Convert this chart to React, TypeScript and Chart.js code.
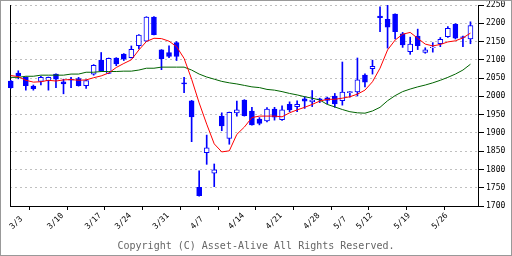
import React, { useEffect, useRef } from "react";
import { Chart, registerables } from "chart.js";

Chart.register(...registerables);

// Date labels and the candle index each one belongs to
const DATE_LABELS = ["3/3", "3/10", "3/17", "3/24", "3/31", "4/7", "4/14", "4/21", "4/28", "5/7", "5/12", "5/19", "5/26"];
const LABEL_INDEX = [0, 5, 10, 14, 19, 24, 29, 34, 39, 43, 46, 51, 56];
// Tick marks: one every 5 candles
const TICK_STEP = 5;
const TICK_COUNT = 13;

// Daily candles
const OPEN = [
  2042, 2064, 2052, 2028, 2041, 2043, 2061, 2040, 2047, 2049,
  2029, 2061, 2099, 2063, 2105, 2116, 2106, 2139, 2151, 2217,
  2127, 2120, 2147, 2037, 1988, 1751, 1846, 1790, 1946, 1885,
  1955, 1990, 1960, 1938, 1933, 1965, 1936, 1978, 1972, 1993,
  1985, 1993, 1996, 2001, 1988, 2010, 2012, 2058, 2076, 2220,
  2211, 2225, 2171, 2122, 2165, 2120, 2133, 2144, 2163, 2197,
  2163, 2157,
];
const HIGH = [
  2044, 2070, 2053, 2031, 2055, 2053, 2062, 2047, 2052, 2052,
  2045, 2087, 2120, 2105, 2106, 2117, 2138, 2169, 2218, 2218,
  2128, 2138, 2150, 2052, 1989, 1796, 1894, 1815, 1955, 1957,
  1987, 1991, 1970, 1942, 1969, 1970, 1974, 1985, 1988, 1999,
  2016, 1995, 1998, 2008, 2094, 2014, 2105, 2062, 2099, 2245,
  2249, 2226, 2175, 2162, 2184, 2133, 2147, 2161, 2191, 2199,
  2165, 2204,
];
const LOW = [
  2022, 2048, 2017, 2017, 2031, 2017, 2024, 2007, 2024, 2028,
  2022, 2058, 2068, 2062, 2084, 2098, 2105, 2130, 2150, 2168,
  2073, 2106, 2098, 2010, 1876, 1727, 1814, 1753, 1906, 1869,
  1946, 1946, 1921, 1922, 1930, 1935, 1934, 1958, 1958, 1967,
  1972, 1983, 1979, 1970, 1976, 1998, 2001, 2026, 2061, 2177,
  2132, 2157, 2134, 2115, 2128, 2118, 2121, 2136, 2161, 2157,
  2136, 2144,
];
const CLOSE = [
  2024, 2056, 2029, 2021, 2052, 2052, 2047, 2034, 2044, 2029,
  2043, 2085, 2069, 2104, 2089, 2102, 2129, 2168, 2217, 2169,
  2103, 2109, 2109, 2034, 1944, 1728, 1859, 1799, 1919, 1956,
  1963, 1947, 1922, 1926, 1965, 1943, 1963, 1963, 1978, 1987,
  1990, 1991, 1989, 1979, 2012, 2013, 2045, 2039, 2082, 2215,
  2189, 2177, 2141, 2143, 2139, 2127, 2135, 2156, 2186, 2159,
  2161, 2194,
];

// Moving averages (red: short, green: long)
const MA_SHORT = [
  2057, 2054, 2044, 2039, 2040, 2044, 2042, 2045, 2046, 2044,
  2045, 2051, 2056, 2064, 2079, 2090, 2100, 2127, 2150, 2159,
  2158, 2151, 2136, 2104, 2047, 1982, 1924, 1870, 1848, 1851,
  1896, 1916, 1942, 1946, 1946, 1946, 1944, 1955, 1963, 1970,
  1978, 1987, 1992, 1992, 1995, 1999, 2006, 2017, 2040, 2077,
  2127, 2154, 2170, 2175, 2159, 2143, 2138, 2142, 2149, 2152,
  2160, 2173,
];
const MA_LONG = [
  2052, 2052, 2055, 2055, 2058, 2058, 2058, 2058, 2061, 2061,
  2066, 2066, 2068, 2068, 2068, 2069, 2069, 2072, 2077, 2077,
  2080, 2080, 2080, 2080, 2072, 2061, 2053, 2047, 2041, 2037,
  2034, 2030, 2026, 2024, 2019, 2017, 2013, 2008, 2004, 1999,
  1995, 1990, 1978, 1971, 1964, 1958, 1955, 1954, 1960, 1970,
  1988, 2002, 2013, 2020, 2026, 2031, 2037, 2044, 2052, 2061,
  2072, 2088,
];

const Y_MIN = 1700;
const Y_MAX = 2250;
const Y_STEP = 50;

export default function App() {
  const ref = useRef<HTMLCanvasElement | null>(null);

  useEffect(() => {
    document.body.style.margin = "0";
    const canvas = ref.current;
    if (!canvas) return;
    const padLen = Math.max(...DATE_LABELS.map((s) => s.length));
    const mono = "'DejaVu Sans Mono', monospace";

    const chart = new Chart(canvas, {
      type: "bar",
      data: {
        datasets: [
          {
            type: "line",
            label: "short",
            data: MA_SHORT.map((v, i) => ({ x: i, y: v })),
            borderColor: "#ff0000",
            borderWidth: 1,
            pointRadius: 0,
            fill: false,
            tension: 0,
            order: 0,
          } as any,
          {
            type: "line",
            label: "long",
            data: MA_LONG.map((v, i) => ({ x: i, y: v })),
            borderColor: "#006400",
            borderWidth: 1,
            pointRadius: 0,
            fill: false,
            tension: 0,
            order: 0,
          } as any,
          {
            type: "bar",
            label: "body",
            data: OPEN.map((o, i) => ({ x: i, y: [o, CLOSE[i]] })),
            backgroundColor: OPEN.map((o, i) => (CLOSE[i] < o ? "#0000ff" : "#ffffff")),
            borderColor: "#0000ff",
            borderWidth: 1,
            borderSkipped: false,
            barThickness: 5,
            grouped: false,
            order: 1,
            clip: false,
          } as any,
          {
            type: "bar",
            label: "wick",
            data: HIGH.map((h, i) => ({ x: i, y: [LOW[i], h] })),
            backgroundColor: "#0000ff",
            borderWidth: 0,
            barThickness: 1,
            grouped: false,
            order: 2,
            clip: false,
          } as any,
        ],
      },
      options: {
        animation: false,
        responsive: false,
        maintainAspectRatio: false,
        devicePixelRatio: 1,
        layout: { padding: { left: 9, top: 4, right: 0, bottom: 0 } },
        plugins: {
          legend: { display: false },
          title: { display: false },
          tooltip: { enabled: false },
        },
        scales: {
          x: {
            type: "linear",
            position: "bottom",
            weight: 0,
            min: -0.1,
            max: 62,
            offset: false,
            afterBuildTicks: (s: any) => {
              const t = [];
              for (let k = 0; k < TICK_COUNT; k++) t.push({ value: k * TICK_STEP });
              s.ticks = t;
            },
            afterFit: (s: any) => {
              s.height = 4;
              s.paddingLeft = 0;
              s.paddingRight = 0;
            },
            ticks: { display: false, autoSkip: false },
            grid: { drawOnChartArea: false, drawTicks: true, tickLength: 4, color: "#000" },
            border: { display: true, color: "#000", width: 1 },
          },
          x2: {
            type: "linear",
            position: "bottom",
            weight: 1,
            min: -0.1,
            max: 62,
            offset: false,
            afterBuildTicks: (s: any) => {
              s.ticks = LABEL_INDEX.map((v) => ({ value: v }));
            },
            afterFit: (s: any) => {
              s.height = 45;
              s.paddingLeft = 0;
              s.paddingRight = 0;
            },
            ticks: {
              autoSkip: false,
              minRotation: 45,
              maxRotation: 45,
              labelOffset: 14,
              padding: 1,
              color: "#000",
              font: { family: mono, size: 8 },
              callback: (_v: any, k: number) => DATE_LABELS[k].padEnd(padLen, " "),
            },
            grid: { display: false, drawOnChartArea: false, drawTicks: false },
            border: { display: false },
          },
          y: {
            type: "linear",
            position: "right",
            min: Y_MIN,
            max: Y_MAX,
            afterBuildTicks: (s: any) => {
              const t = [];
              for (let v = Y_MIN; v <= Y_MAX; v += Y_STEP) t.push({ value: v });
              s.ticks = t;
            },
            afterFit: (s: any) => {
              s.width = 33;
              s.paddingTop = 0;
              s.paddingBottom = 0;
            },
            ticks: {
              padding: 2,
              color: "#000",
              font: { family: mono, size: 8 },
              callback: (v: any) => String(v),
            },
            grid: {
              color: (ctx: any) => (ctx.tick && ctx.tick.value === Y_MIN ? "rgba(0,0,0,0)" : "#c0c0c0"),
              tickColor: "#000",
              tickLength: 6,
              tickBorderDash: [],
            },
            border: { display: true, color: "#000", width: 1, dash: [2, 3] },
          },
          yL: {
            type: "linear",
            position: "left",
            min: Y_MIN,
            max: Y_MAX,
            ticks: { display: false },
            grid: { display: false },
            border: { display: true, color: "#000", width: 1 },
            afterFit: (s: any) => {
              s.width = 0;
              s.paddingTop = 0;
              s.paddingBottom = 0;
            },
          },
        },
      } as any,
    });
    return () => chart.destroy();
  }, []);

  return (
    <div
      style={{
        position: "relative",
        width: 512,
        height: 256,
        boxSizing: "border-box",
        border: "1px solid #999",
        background: "#fff",
        overflow: "hidden",
      }}
    >
      <canvas ref={ref} width={510} height={254} style={{ position: "absolute", left: 0, top: 0, width: 510, height: 254 }} />
      <div
        style={{
          position: "absolute",
          left: 0,
          top: 239,
          width: 510,
          textAlign: "center",
          font: "10px 'DejaVu Sans Mono', monospace",
          lineHeight: "12px",
          color: "#666",
          whiteSpace: "pre",
        }}
      >
        Copyright (C) Asset-Alive All Rights Reserved.
      </div>
    </div>
  );
}
